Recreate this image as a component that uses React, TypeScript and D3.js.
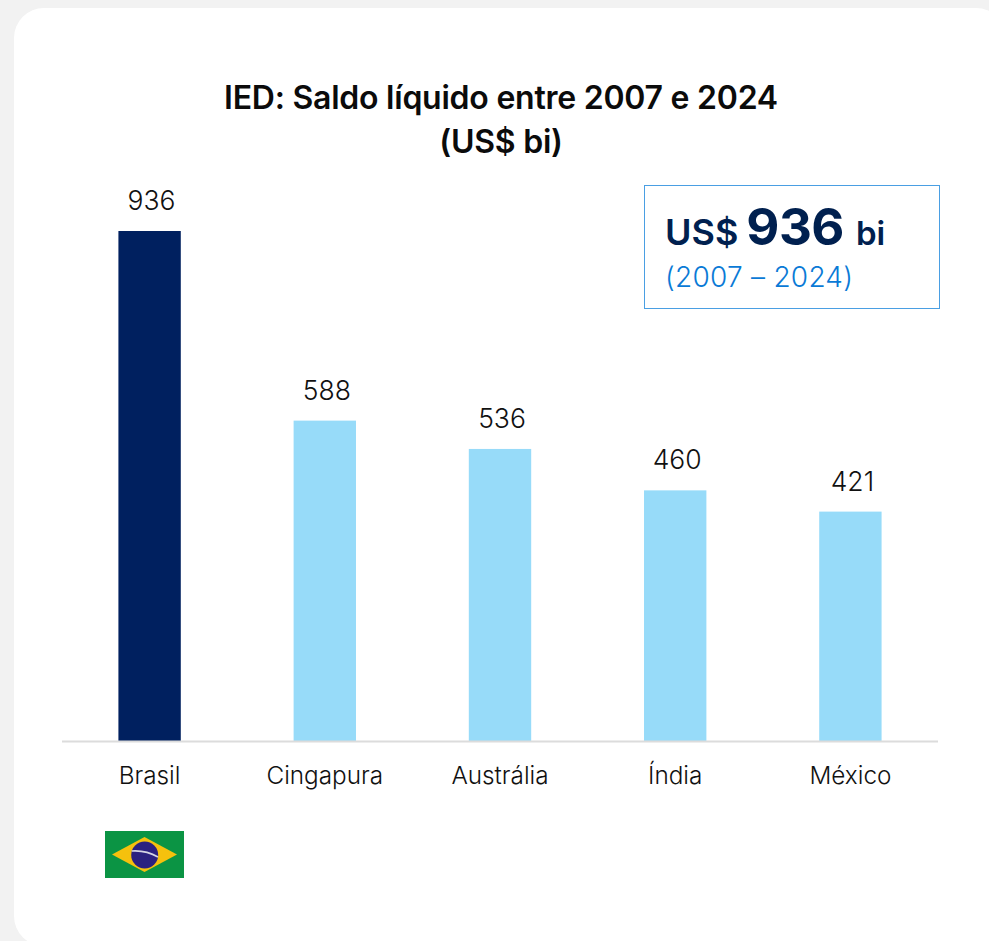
import React from "react";
import * as d3 from "d3";

const categories = ["Brasil", "Cingapura", "Austrália", "Índia", "México"];
const values = [936, 588, 536, 460, 421];
const titleLines = ["IED: Saldo líquido entre 2007 e 2024", "(US$ bi)"];
const FONT = "Inter, 'Noto Sans', sans-serif";

export default function App() {
  const x = d3.scaleBand<string>().domain(categories).range([62, 938]).paddingInner(0.644).paddingOuter(0.322);
  const y = d3.scaleLinear().domain([0, 936]).range([741, 231]);
  return (
    <svg width={989} height={941} style={{ position: "fixed", left: 0, top: 0, display: "block" }} fontFamily={FONT}>
      <rect width={989} height={941} fill="#f2f2f2" />
      <rect x={14} y={8} width={992} height={938} rx={30} fill="#ffffff" />
      {titleLines.map((t, i) => (
        <text key={t} x={501} y={109 + i * 44} textAnchor="middle" fontSize={32} fontWeight={600} fill="#0b0b0b" letterSpacing={-0.24}>{t}</text>
      ))}
      {categories.map((c, i) => (
        <g key={c}>
          <rect x={x(c)} y={y(values[i])} width={x.bandwidth()} height={741 - y(values[i])} fill={i === 0 ? "#00205f" : "#97dbf9"} />
          <text x={x(c)! + x.bandwidth() / 2 + 2} y={y(values[i]) - 21} textAnchor="middle" fontSize={26.5} fontWeight={300} fill="#111">{values[i]}</text>
          <text x={x(c)! + x.bandwidth() / 2} y={784} textAnchor="middle" fontSize={24.3} fontWeight={300} fill="#111">{c}</text>
        </g>
      ))}
      <line x1={62} x2={938} y1={741.5} y2={741.5} stroke="#dcdcdc" strokeWidth={2} />
      <rect x={644.5} y={185.5} width={295} height={123} fill="#fff" stroke="#4a9fe3" strokeWidth={1} />
      <text x={665} y={245} fill="#00204f" fontWeight={600}>
        <tspan fontSize={36}>US$</tspan>
        <tspan fontSize={51} fontWeight={700} dx={8} letterSpacing={-0.5}>936</tspan>
        <tspan fontSize={33} dx={12}>bi</tspan>
      </text>
      <text x={665} y={287} fill="#0a7ad6" fontSize={28} fontWeight={300} letterSpacing={0.25}>(2007 – 2024)</text>
      <g>
        <rect x={105} y={831} width={79} height={47} fill="#0b9444" />
        <polygon points="112,854.5 144.5,837 177,854.5 144.5,872" fill="#f5c10d" />
        <circle cx={144.7} cy={855} r={13.5} fill="#2b2180" />
        <path d="M131.7,851 Q146,850 158,857" fill="none" stroke="#d5d5e5" strokeWidth={1.5} />
      </g>
    </svg>
  );
}
